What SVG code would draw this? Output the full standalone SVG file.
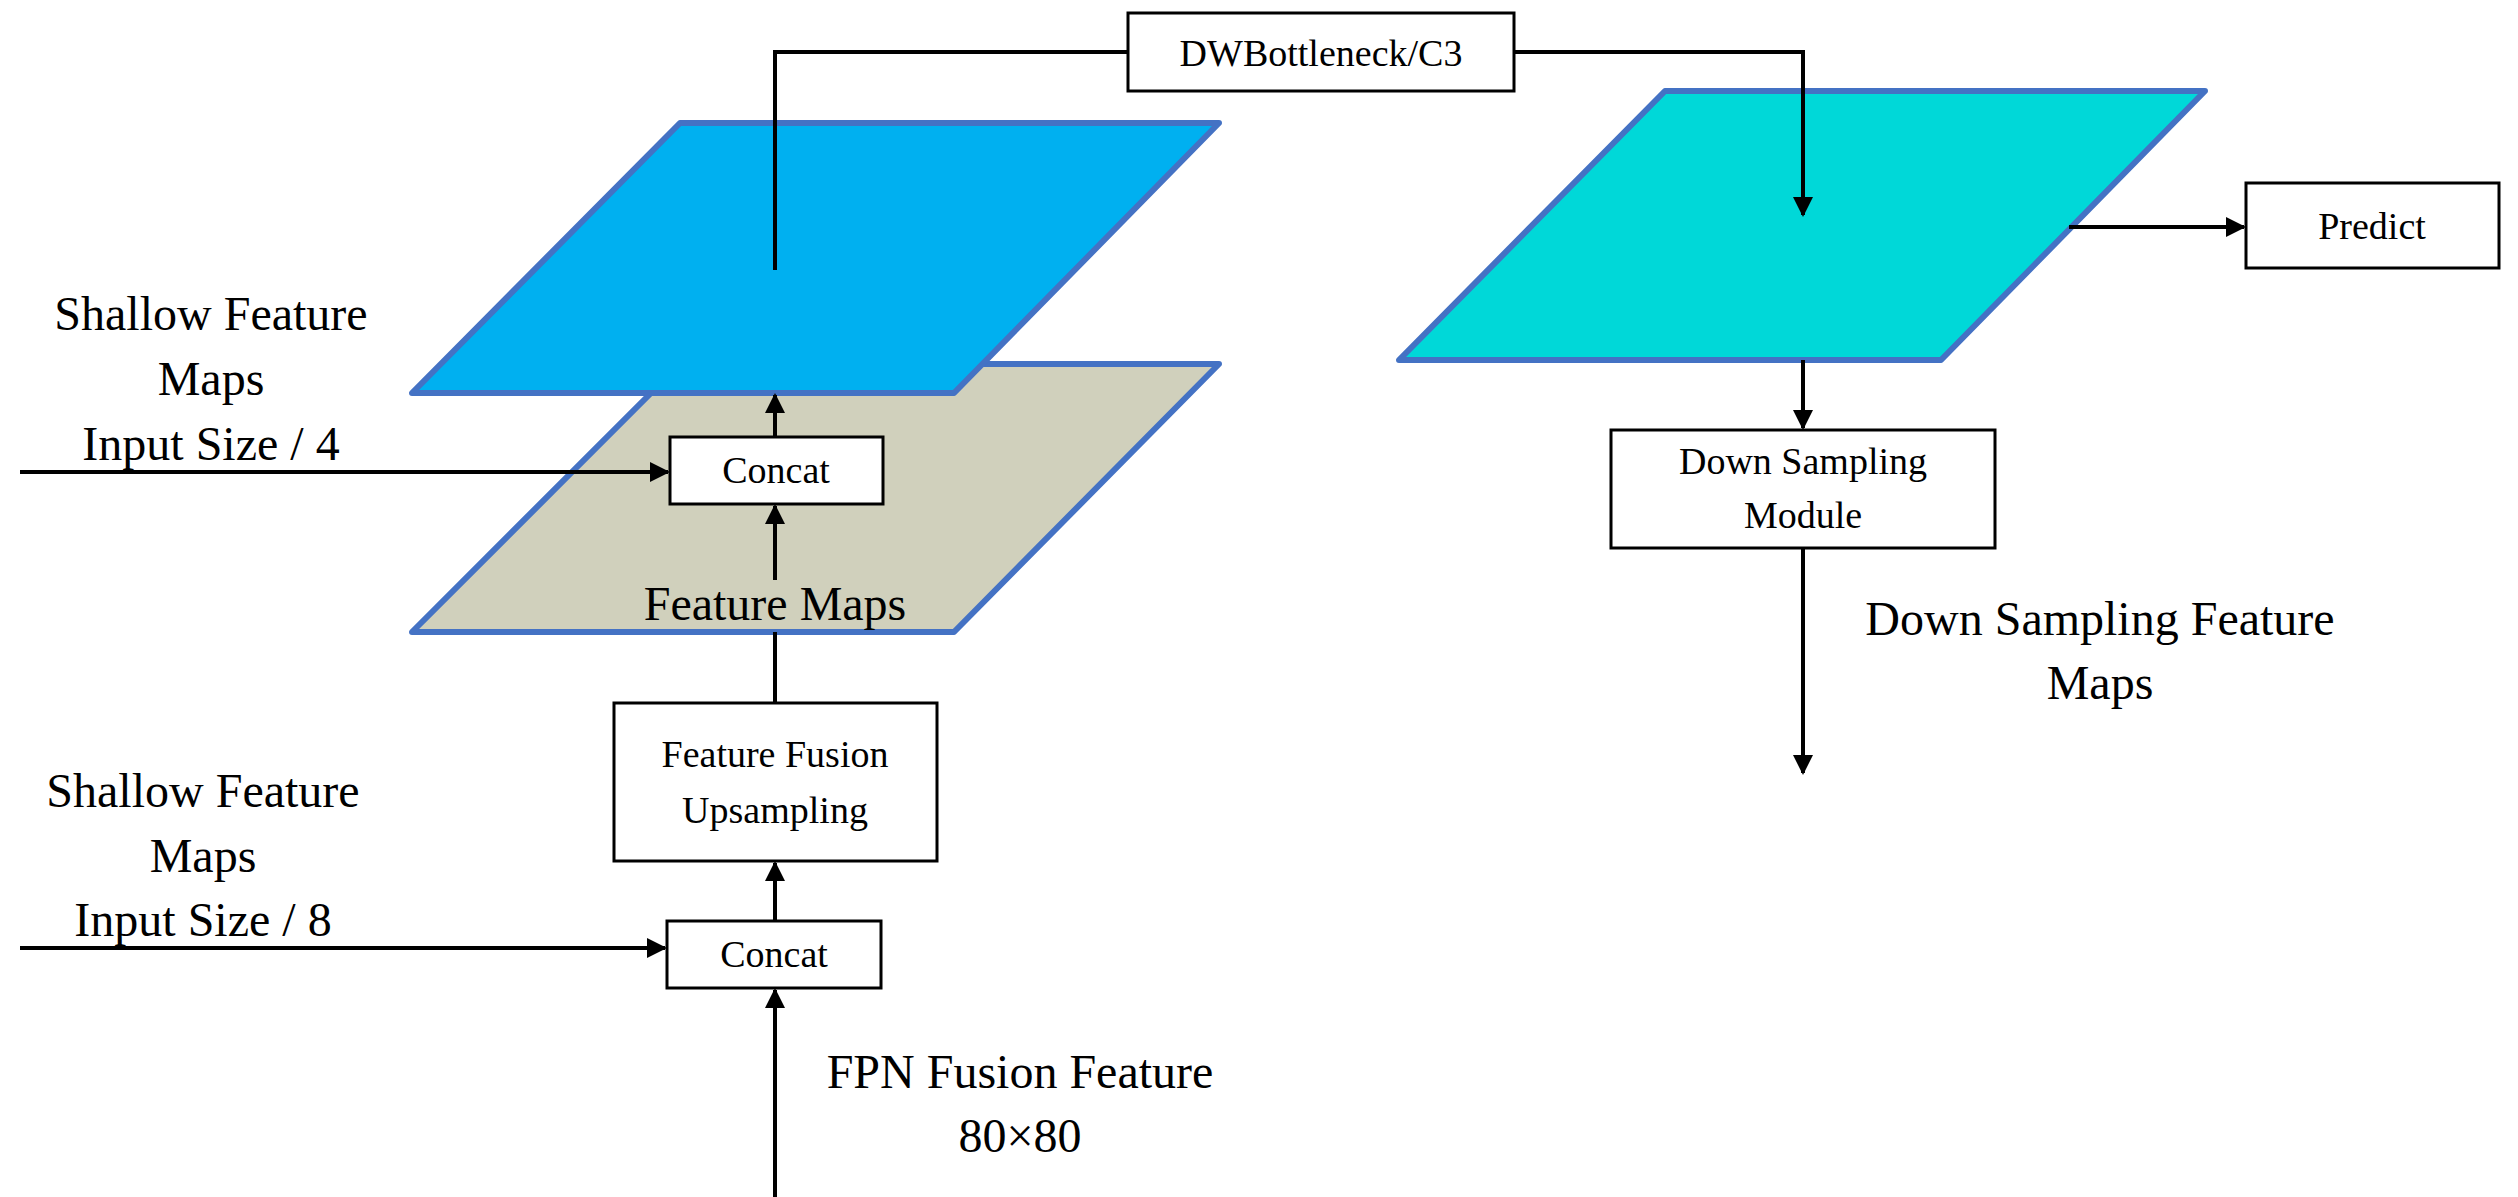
<svg xmlns="http://www.w3.org/2000/svg" width="2518" height="1197" viewBox="0 0 2518 1197">
<style>
text{font-family:"Liberation Serif","Times New Roman",serif;fill:#000;text-anchor:middle}
.big{font-size:48px}
.sm{font-size:38px}
.box{fill:#fff;stroke:#000;stroke-width:3}
.plane{stroke:#4472C4;stroke-width:6;stroke-linejoin:round}
.ln{fill:none;stroke:#000;stroke-width:4}
</style>
<defs>
<marker id="ah" viewBox="0 0 10 10" refX="9" refY="5" markerWidth="5" markerHeight="5" orient="auto" markerUnits="strokeWidth"><path d="M0,0L10,5L0,10z" fill="#000"/></marker>
</defs>
<rect width="2518" height="1197" fill="#fff"/>
<g id="plane-fm"><polygon class="plane" fill="#D0D0BC" points="680,364 1219,364 954,632 412,632"/></g>
<g id="plane-blue"><polygon class="plane" fill="#00B0F0" points="680,123 1219,123 954,393 412,393"/></g>
<g id="plane-cyan"><polygon class="plane" fill="#00D8D8" points="1665,91 2205,91 1941,360 1399,360"/></g>
<g id="connectors">
<polyline class="ln" points="775,270 775,52 1128,52"/>
<polyline class="ln" points="1514,52 1803,52 1803,215" marker-end="url(#ah)"/>
<line class="ln" x1="2069" y1="227" x2="2244" y2="227" marker-end="url(#ah)"/>
<line class="ln" x1="1803" y1="360" x2="1803" y2="428" marker-end="url(#ah)"/>
<line class="ln" x1="1803" y1="548" x2="1803" y2="773" marker-end="url(#ah)"/>
<line class="ln" x1="775" y1="437" x2="775" y2="395" marker-end="url(#ah)"/>
<line class="ln" x1="775" y1="580" x2="775" y2="506" marker-end="url(#ah)"/>
<line class="ln" x1="20" y1="472" x2="668" y2="472" marker-end="url(#ah)"/>
<line class="ln" x1="775" y1="632" x2="775" y2="703"/>
<line class="ln" x1="775" y1="921" x2="775" y2="863" marker-end="url(#ah)"/>
<line class="ln" x1="775" y1="1197" x2="775" y2="990" marker-end="url(#ah)"/>
<line class="ln" x1="20" y1="948" x2="665" y2="948" marker-end="url(#ah)"/>
</g>
<g id="dw"><rect class="box" x="1128" y="13" width="386" height="78"/><text class="sm" x="1321" y="66">DWBottleneck/C3</text></g>
<g id="predict"><rect class="box" x="2246" y="183" width="253" height="85"/><text class="sm" x="2372" y="239">Predict</text></g>
<g id="dsm"><rect class="box" x="1611" y="430" width="384" height="118"/><text class="sm" x="1803" y="474">Down Sampling</text><text class="sm" x="1803" y="528">Module</text></g>
<g id="concat1"><rect class="box" x="670" y="437" width="213" height="67"/><text class="sm" x="776" y="483">Concat</text></g>
<g id="concat2"><rect class="box" x="667" y="921" width="214" height="67"/><text class="sm" x="774" y="967">Concat</text></g>
<g id="ffu"><rect class="box" x="614" y="703" width="323" height="158"/><text class="sm" x="775" y="767">Feature Fusion</text><text class="sm" x="775" y="823">Upsampling</text></g>
<g id="labels">
<text class="big" x="775" y="620">Feature Maps</text>
<text class="big" x="211" y="330">Shallow Feature</text>
<text class="big" x="211" y="395">Maps</text>
<text class="big" x="211" y="460">Input Size / 4</text>
<text class="big" x="203" y="807">Shallow Feature</text>
<text class="big" x="203" y="872">Maps</text>
<text class="big" x="203" y="936">Input Size / 8</text>
<text class="big" x="1020" y="1088">FPN Fusion Feature</text>
<text class="big" x="1020" y="1152">80×80</text>
<text class="big" x="2100" y="635">Down Sampling Feature</text>
<text class="big" x="2100" y="699">Maps</text>
</g>
</svg>
